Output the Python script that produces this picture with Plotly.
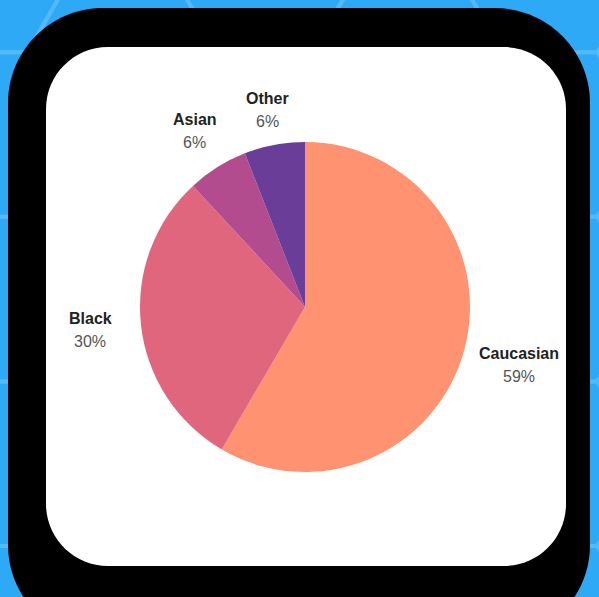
import math
import plotly.graph_objects as go

# Share of respondents by race
categories = ["Caucasian", "Black", "Asian", "Other"]
shares = [59, 30, 6, 6]
slice_colors = ["#FF9270", "#E0667E", "#B34C8F", "#6A3D99"]

W, H = 599, 597
BG_BLUE = "#2DA9F6"
HEX_LINE = "#52BAF8"
FONT = "Liberation Sans, Arial, sans-serif"

# distance (px) from the pie centre to each label block
label_radius = [222, 216, 208, 200]


def rounded_rect(x0, y0, x1, y1, r):
    """SVG path for a rounded rectangle in pixel coordinates (y down)."""
    k = 0.5523 * r
    return (
        f"M {x0 + r},{y0} L {x1 - r},{y0} "
        f"C {x1 - r + k},{y0} {x1},{y0 + r - k} {x1},{y0 + r} "
        f"L {x1},{y1 - r} "
        f"C {x1},{y1 - r + k} {x1 - r + k},{y1} {x1 - r},{y1} "
        f"L {x0 + r},{y1} "
        f"C {x0 + r - k},{y1} {x0},{y1 - r + k} {x0},{y1 - r} "
        f"L {x0},{y0 + r} "
        f"C {x0},{y0 + r - k} {x0 + r - k},{y0} {x0 + r},{y0} Z"
    )


def hexagon(cx, cy, s):
    pts = [(cx + s * math.cos(math.radians(60 * i)), cy + s * math.sin(math.radians(60 * i)))
           for i in range(6)]
    return "M " + " L ".join(f"{x:.1f},{y:.1f}" for x, y in pts) + " Z"


shapes = []
# faint hexagon pattern on the blue backdrop
s = 95
dx, dy = 1.5 * s, math.sqrt(3) * s
for col in range(-1, 6):
    for row in range(-1, 5):
        hx = col * dx - 20
        hy = row * dy + (dy / 2 if col % 2 else 0) - 30
        shapes.append(dict(type="path", xref="x", yref="y", layer="below",
                           path=hexagon(hx, hy, s),
                           line=dict(color=HEX_LINE, width=4)))

# black frame and white card
shapes.append(dict(type="path", xref="x", yref="y", layer="below",
                   path=rounded_rect(8, 8, 590, 640, 95),
                   fillcolor="#000000", line=dict(width=0)))
shapes.append(dict(type="path", xref="x", yref="y", layer="below",
                   path=rounded_rect(46, 47, 566, 566, 62),
                   fillcolor="#FFFFFF", line=dict(width=0)))

# pie placement (pixel box of the circle)
cx, cy, r = 305, 307, 165
pie_domain_x = [(cx - r) / W, (cx + r) / W]
pie_domain_y = [(H - (cy + r)) / H, (H - (cy - r)) / H]

fig = go.Figure()
fig.add_trace(go.Pie(
    labels=categories,
    values=shares,
    sort=False,
    direction="clockwise",
    rotation=0,
    marker=dict(colors=slice_colors, line=dict(width=0)),
    textinfo="none",
    domain=dict(x=pie_domain_x, y=pie_domain_y),
    showlegend=False,
    hoverinfo="label+value",
))

# outside labels placed along each slice's mid-angle
annotations = []
total = sum(shares)
running = 0
for name, val, dist in zip(categories, shares, label_radius):
    mid = (running + val / 2) / total * 2 * math.pi
    running += val
    bx = cx + dist * math.sin(mid)
    by = cy - dist * math.cos(mid)
    annotations.append(dict(x=bx, y=by - 11.5, xref="x", yref="y", showarrow=False,
                            text=f"<b>{name}</b>",
                            font=dict(family=FONT, size=16, color="#222222")))
    annotations.append(dict(x=bx, y=by + 11.5, xref="x", yref="y", showarrow=False,
                            text=f"{val}%",
                            font=dict(family=FONT, size=16, color="#555555")))

fig.update_layout(
    width=W, height=H,
    margin=dict(l=0, r=0, t=0, b=0),
    paper_bgcolor=BG_BLUE,
    plot_bgcolor=BG_BLUE,
    xaxis=dict(range=[0, W], visible=False, fixedrange=True),
    yaxis=dict(range=[H, 0], visible=False, fixedrange=True),
    shapes=shapes,
    annotations=annotations,
)

fig.write_html("out.html")
